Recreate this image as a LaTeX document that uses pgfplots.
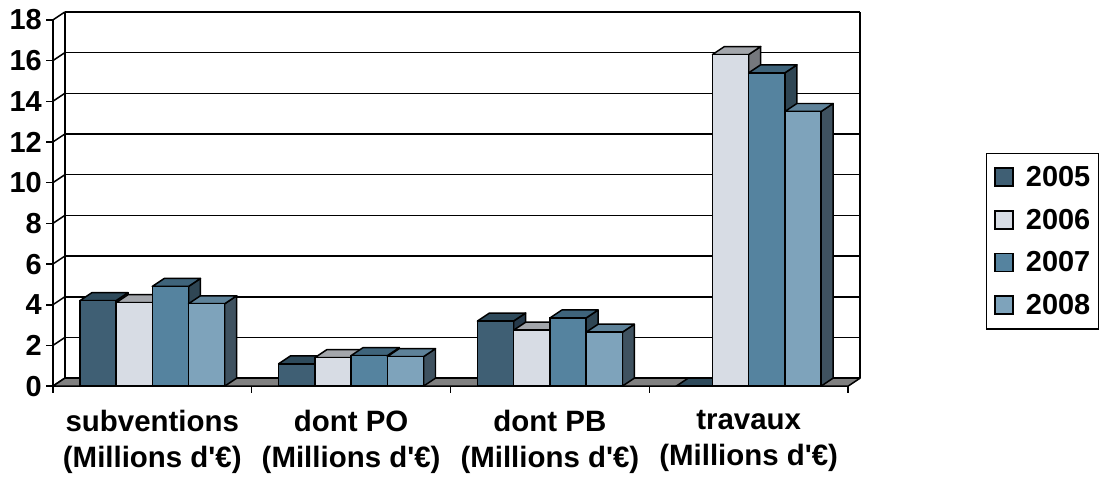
\documentclass[border=0pt]{standalone}
\usepackage{pgfplots}
\usepackage{pgfplotstable}
\pgfplotsset{compat=1.18}
\usepackage{fontspec}
\setmainfont{Liberation Sans}

\definecolor{fA}{HTML}{3F5F74}\definecolor{tA}{HTML}{2E4A5B}\definecolor{sA}{HTML}{25394A}
\definecolor{fB}{HTML}{D7DCE4}\definecolor{tB}{HTML}{A3A6AB}\definecolor{sB}{HTML}{75787D}
\definecolor{fC}{HTML}{55839F}\definecolor{tC}{HTML}{3F647B}\definecolor{sC}{HTML}{2F4654}
\definecolor{fD}{HTML}{7EA3BB}\definecolor{tD}{HTML}{5E8299}\definecolor{sD}{HTML}{3F5260}
\definecolor{floorgray}{HTML}{808080}

% series 2005
\pgfplotstableread{
x y
0.5 4.2
1.5 1.1
2.5 3.2
3.5 0
}\tA
% series 2006
\pgfplotstableread{
x y
0.5 4.1
1.5 1.4
2.5 2.75
3.5 16.3
}\tB
% series 2007
\pgfplotstableread{
x y
0.5 4.9
1.5 1.5
2.5 3.35
3.5 15.4
}\tC
% series 2008
\pgfplotstableread{
x y
0.5 4.05
1.5 1.45
2.5 2.65
3.5 13.5
}\tD

\pgfdeclareplotmark{nothing}{}
\newcommand\bigfont{\fontsize{29.5}{36}\selectfont\bfseries}

\pgfplotsset{
  faces/.style n args={4}{%
    forget plot, scatter, only marks, mark=nothing,
    visualization depends on={rawy \as \barh},
    scatter/@pre marker code/.code={%
      \pgfmathsetmacro\hh{\barh*20.39}%
      \path[fill=#3,draw=black,line width=1.5pt,line join=round]
        (#1pt+36.3pt,0pt) -- ++(12pt,8pt) -- ++(0pt,-\hh pt) -- ++(-12pt,-8pt) -- cycle;
      \path[fill=#2,draw=black,line width=1.5pt,line join=round]
        (#1pt,0pt) -- ++(36.3pt,0pt) -- ++(12pt,8pt) -- ++(-36.3pt,0pt) -- cycle;
      \path[fill=#4,draw=black,line width=1.5pt,line join=round]
        (#1pt,0pt) rectangle (#1pt+36.3pt,-\hh pt);
    },
    scatter/@post marker code/.code={},
  },
  front/.style n args={2}{%
    forget plot, ybar, bar width=36.3pt, bar shift=#1pt, fill=#2, draw=black, line width=1.5pt,
  },
}

\begin{document}
\begin{tikzpicture}
\begin{axis}[
  x=199.25pt, y=20.39pt,
  xmin=0, xmax=4, ymin=0, ymax=18,
  clip=false,
  axis line style={draw=none},
  tick style={draw=none},
  major tick length=0pt,
  ytick={0,2,...,18},
  xtick={0.5,1.5,2.5,3.5},
  xticklabels={{subventions\\(Millions d\textquotesingle€)},{dont PO\\(Millions d\textquotesingle€)},{dont PB\\(Millions d\textquotesingle€)},{travaux\\(Millions d\textquotesingle€)}},
  xticklabel style={align=center, font=\bigfont, inner sep=0pt, anchor=north, yshift=-24pt},
  yticklabel style={font=\fontsize{29}{35}\selectfont\bfseries, inner sep=0pt, anchor=east, xshift=-11pt},
  /pgf/number format/assume math mode=true,
  legend style={at={(1.1731,0.6376)}, anchor=north west, draw=black, line width=1.5pt,
    font=\fontsize{29}{35}\selectfont\bfseries, inner xsep=8pt, inner ysep=13pt, row sep=21pt, column sep=12pt,
    nodes={inner sep=0pt}},
  legend cell align=left,
]
% frame of the picture
\path (axis cs:0,0) ++(-53pt,-92pt) rectangle ++(1099pt,479pt);

% back wall grid, left wall diagonals, front ticks
\pgfplotsinvokeforeach{0,2,...,18}{
  \draw[line width=1.5pt] ([shift={(12pt,8pt)}]axis cs:0,#1) -- ([shift={(12pt,8pt)}]axis cs:4,#1);
  \draw[line width=1.5pt] (axis cs:0,#1) -- ([shift={(12pt,8pt)}]axis cs:0,#1);
  \draw[line width=1.5pt] (axis cs:0,#1) -- ([xshift=-7pt]axis cs:0,#1);
}
\draw[line width=1.5pt] ([shift={(12pt,8pt)}]axis cs:0,0) -- ([shift={(12pt,8pt)}]axis cs:0,18);
\draw[line width=1.5pt] ([shift={(12pt,8pt)}]axis cs:4,0) -- ([shift={(12pt,8pt)}]axis cs:4,18);
\draw[line width=1.5pt] (axis cs:0,0) -- (axis cs:0,18);
% floor
\draw[line width=1.5pt, fill=floorgray, line join=round] (axis cs:0,0) -- (axis cs:4,0) -- ([shift={(12pt,8pt)}]axis cs:4,0) -- ([shift={(12pt,8pt)}]axis cs:0,0) -- cycle;
\pgfplotsinvokeforeach{0,1,2,3,4}{
  \draw[line width=1.5pt] (axis cs:#1,0) -- ([yshift=-7pt]axis cs:#1,0);
}

% bars (front faces as ybar, then full 3D bars drawn per point in order)
\addplot[front={-54.45}{fA}] table[x=x,y=y]{\tA};
\addplot[front={-18.15}{fB}] table[x=x,y=y]{\tB};
\addplot[front={18.15}{fC}] table[x=x,y=y]{\tC};
\addplot[front={54.45}{fD}] table[x=x,y=y]{\tD};
\addplot[faces={-72.6}{tA}{sA}{fA}] table[x=x,y=y]{\tA};
\addplot[faces={-36.3}{tB}{sB}{fB}] table[x=x,y=y]{\tB};
\addplot[faces={0}{tC}{sC}{fC}] table[x=x,y=y]{\tC};
\addplot[faces={36.3}{tD}{sD}{fD}] table[x=x,y=y]{\tD};

\addlegendimage{legend image code/.code={\draw[fill=fA,draw=black,line width=1.5pt] (0pt,-9pt) rectangle (18pt,9pt);}}
\addlegendentry{2005}
\addlegendimage{legend image code/.code={\draw[fill=fB,draw=black,line width=1.5pt] (0pt,-9pt) rectangle (18pt,9pt);}}
\addlegendentry{2006}
\addlegendimage{legend image code/.code={\draw[fill=fC,draw=black,line width=1.5pt] (0pt,-9pt) rectangle (18pt,9pt);}}
\addlegendentry{2007}
\addlegendimage{legend image code/.code={\draw[fill=fD,draw=black,line width=1.5pt] (0pt,-9pt) rectangle (18pt,9pt);}}
\addlegendentry{2008}
\end{axis}
\end{tikzpicture}
\end{document}
